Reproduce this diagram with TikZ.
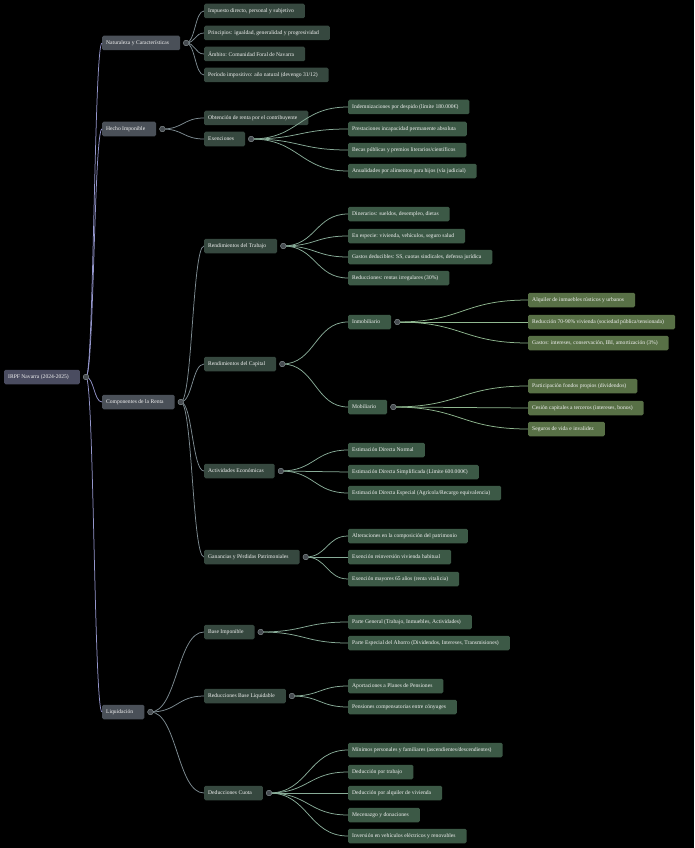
\documentclass[tikz,border=0pt]{standalone}
\usepackage{fontspec}
\setmainfont{Liberation Serif}
\usepackage{xcolor}
\usetikzlibrary{calc,positioning}

\definecolor{rootfill}{HTML}{4A4C60}
\definecolor{topfill}{HTML}{4A5058}
\definecolor{midfill}{HTML}{36483F}
\definecolor{leaffill}{HTML}{3C5946}
\definecolor{deepfill}{HTML}{587046}
\definecolor{lkroot}{HTML}{9496CC}
\definecolor{lktop}{HTML}{7E8C92}
\definecolor{lkmid}{HTML}{88AC98}
\definecolor{lkdeep}{HTML}{90B890}
\definecolor{dotfill}{HTML}{464B50}
\definecolor{dotline}{HTML}{7A8284}

\begin{document}
\begin{tikzpicture}[
    x=1pt, y=-1pt,
    box/.style={rounded corners=1.5pt, inner xsep=4pt, inner ysep=0pt,
                minimum height=14.5pt, anchor=west, text=white!95!black,
                font=\fontsize{5.6}{6.7}\selectfont,
                execute at end node={\hspace{7pt}}},
    rootbox/.style={box, fill=rootfill},
    topic/.style={box, fill=topfill},
    sub/.style={box, fill=midfill},
    leaf/.style={box, fill=leaffill},
    deep/.style={box, fill=deepfill},
    dot/.style={circle, fill=dotfill, draw=dotline, line width=0.4pt,
                minimum size=5.5pt, inner sep=0pt},
    bez/.style={to path={let \p1=(\tikztostart), \p2=(\tikztotarget),
                \p3=($(\p1)!0.5!(\p2)$) in
                .. controls (\x3,\y1) and (\x3,\y2) .. (\p2)}},
    lk0/.style={draw=lkroot, line width=0.75pt},
    lk1/.style={draw=lktop, line width=0.75pt},
    lk2/.style={draw=lkmid, line width=0.75pt},
    lk3/.style={draw=lkdeep, line width=0.75pt},
]
% Background and page size.
\fill[black] (0,0) rectangle (694,848);
\useasboundingbox (0,0) rectangle (694,848);

% Root and first level.
\node[rootbox] (root) at (4,377) {IRPF Navarra (2024-2025)};
\node[dot, right=3pt of root] (rootd) {};
\node[topic] (nat)   at (102,43)  {Naturaleza y Características};
\node[topic] (hecho) at (102,129) {Hecho Imponible};
\node[topic] (comp)  at (102,402) {Componentes de la Renta};
\node[topic] (liq)   at (102,712) {Liquidación};
\foreach \k in {nat,hecho,comp,liq} {
  \node[dot, right=3pt of \k] (\k d) {};
}

% Naturaleza y Caracteristicas.
\foreach \i/\y/\t in {1/11/{Impuesto directo, personal y subjetivo},
    2/33/{Principios: igualdad, generalidad y progresividad},
    3/54/{Ámbito: Comunidad Foral de Navarra},
    4/75/{Período impositivo: año natural (devengo 31/12)}} {
  \node[sub] (nat\i) at (204,\y) {\t};
}

% Hecho Imponible.
\node[sub] (obt)  at (204,118) {Obtención de renta por el contribuyente};
\node[sub] (exen) at (204,139) {Exenciones};
\node[dot, right=3pt of exen] (exend) {};
\foreach \i/\y/\t in {1/107/{Indemnizaciones por despido (límite 180.000€)},
    2/129/{Prestaciones incapacidad permanente absoluta},
    3/150/{Becas públicas y premios literarios/científicos},
    4/171/{Anualidades por alimentos para hijos (vía judicial)}} {
  \node[leaf] (exen\i) at (348,\y) {\t};
}

% Componentes de la Renta.
\node[sub] (trab) at (204,246) {Rendimientos del Trabajo};
\node[sub] (cap)  at (204,364) {Rendimientos del Capital};
\node[sub] (act)  at (204,471) {Actividades Económicas};
\node[sub] (gan)  at (204,557) {Ganancias y Pérdidas Patrimoniales};
\foreach \k in {trab,cap,act,gan} {
  \node[dot, right=3pt of \k] (\k d) {};
}
\foreach \i/\y/\t in {1/214/{Dinerarios: sueldos, desempleo, dietas},
    2/236/{En especie: vivienda, vehículos, seguro salud},
    3/257/{Gastos deducibles: SS, cuotas sindicales, defensa jurídica},
    4/278/{Reducciones: rentas irregulares (30\%)}} {
  \node[leaf] (trab\i) at (348,\y) {\t};
}
\node[leaf] (inm) at (348,322) {Inmobiliario};
\node[leaf] (mob) at (348,407) {Mobiliario};
\node[dot, right=3pt of inm] (inmd) {};
\node[dot, right=3pt of mob] (mobd) {};
\foreach \i/\y/\t in {1/300/{Alquiler de inmuebles rústicos y urbanos},
    2/322/{Reducción 70-90\% vivienda (sociedad pública/tensionada)},
    3/343/{Gastos: intereses, conservación, IBI, amortización (3\%)}} {
  \node[deep] (inm\i) at (528,\y) {\t};
}
\foreach \i/\y/\t in {1/386/{Participación fondos propios (dividendos)},
    2/408/{Cesión capitales a terceros (intereses, bonos)},
    3/429/{Seguros de vida e invalidez}} {
  \node[deep] (mob\i) at (528,\y) {\t};
}
\foreach \i/\y/\t in {1/450/{Estimación Directa Normal},
    2/472/{Estimación Directa Simplificada (Límite 600.000€)},
    3/493/{Estimación Directa Especial (Agrícola/Recargo equivalencia)}} {
  \node[leaf] (act\i) at (348,\y) {\t};
}
\foreach \i/\y/\t in {1/536/{Alteraciones en la composición del patrimonio},
    2/557/{Exención reinversión vivienda habitual},
    3/579/{Exención mayores 65 años (renta vitalicia)}} {
  \node[leaf] (gan\i) at (348,\y) {\t};
}

% Liquidacion.
\node[sub] (base) at (204,632) {Base Imponible};
\node[sub] (red)  at (204,696) {Reducciones Base Liquidable};
\node[sub] (ded)  at (204,793) {Deducciones Cuota};
\foreach \k in {base,red,ded} {
  \node[dot, right=3pt of \k] (\k d) {};
}
\foreach \i/\y/\t in {1/622/{Parte General (Trabajo, Inmuebles, Actividades)},
    2/643/{Parte Especial del Ahorro (Dividendos, Intereses, Transmisiones)}} {
  \node[leaf] (base\i) at (348,\y) {\t};
}
\foreach \i/\y/\t in {1/686/{Aportaciones a Planes de Pensiones},
    2/707/{Pensiones compensatorias entre cónyuges}} {
  \node[leaf] (red\i) at (348,\y) {\t};
}
\foreach \i/\y/\t in {1/750/{Mínimos personales y familiares (ascendientes/descendientes)},
    2/772/{Deducción por trabajo},
    3/793/{Deducción por alquiler de vivienda},
    4/815/{Mecenazgo y donaciones},
    5/836/{Inversión en vehículos eléctricos y renovables}} {
  \node[leaf] (ded\i) at (348,\y) {\t};
}

% Links.
\foreach \k in {nat,hecho,comp,liq} {
  \draw[lk0] (rootd.center) to[bez] (\k.west);
}
\foreach \i in {1,...,4} {
  \draw[lk1] (natd.center) to[bez] (nat\i.west);
  \draw[lk2] (exend.center) to[bez] (exen\i.west);
  \draw[lk2] (trabd.center) to[bez] (trab\i.west);
}
\foreach \k in {obt,exen} {
  \draw[lk1] (hechod.center) to[bez] (\k.west);
}
\foreach \k in {trab,cap,act,gan} {
  \draw[lk1] (compd.center) to[bez] (\k.west);
}
\foreach \k in {inm,mob} {
  \draw[lk2] (capd.center) to[bez] (\k.west);
}
\foreach \i in {1,2,3} {
  \draw[lk3] (inmd.center) to[bez] (inm\i.west);
  \draw[lk3] (mobd.center) to[bez] (mob\i.west);
  \draw[lk2] (actd.center) to[bez] (act\i.west);
  \draw[lk2] (gand.center) to[bez] (gan\i.west);
}
\foreach \k in {base,red,ded} {
  \draw[lk1] (liqd.center) to[bez] (\k.west);
}
\foreach \i in {1,2} {
  \draw[lk2] (based.center) to[bez] (base\i.west);
  \draw[lk2] (redd.center) to[bez] (red\i.west);
}
\foreach \i in {1,...,5} {
  \draw[lk2] (dedd.center) to[bez] (ded\i.west);
}

% Dots on top of the links.
\foreach \k in {root,nat,hecho,comp,liq,exen,trab,cap,inm,mob,act,gan,base,red,ded} {
  \node[dot] at (\k d) {};
}
\end{tikzpicture}
\end{document}
